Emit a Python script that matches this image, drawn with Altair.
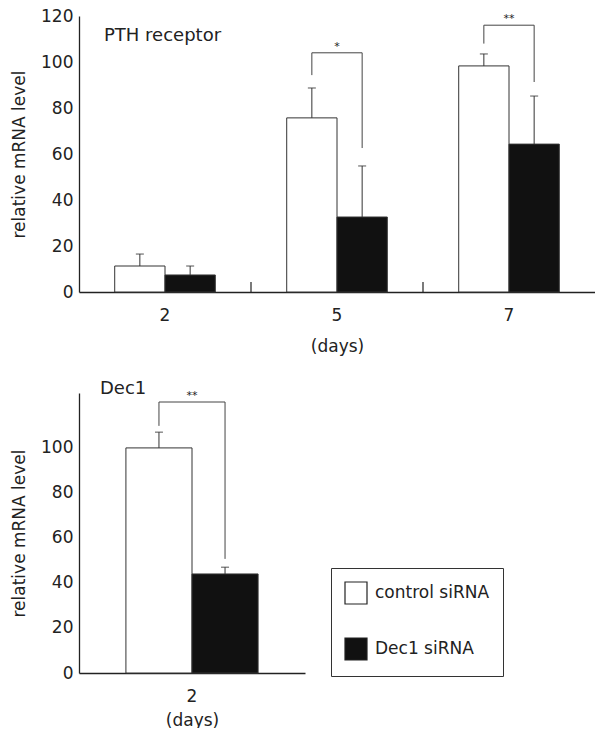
import altair as alt
import pandas as pd

FONT = "DejaVu Sans"
INK = "#222222"

# ---------------- data ----------------
series = ["control siRNA", "Dec1 siRNA"]

# Panel A: PTH receptor
pth_days = ["2", "5", "7"]
pth_ctrl_mean = [11.3, 75.7, 98.3]
pth_ctrl_sd = [5.2, 13.0, 5.2]
pth_dec_mean = [7.4, 32.6, 64.3]
pth_dec_sd = [3.9, 22.2, 20.9]
pth_sig_days = ["5", "7"]
pth_sig_left = [94.3, 108.0]
pth_sig_right = [62.6, 91.3]
pth_sig_top = [104.0, 116.0]
pth_sig_label = ["*", "**"]
pth_yticks = [0, 20, 40, 60, 80, 100, 120]

# Panel B: Dec1
dec_days = ["2"]
dec_ctrl_mean = [100.0]
dec_ctrl_sd = [7.0]
dec_dec_mean = [44.0]
dec_dec_sd = [3.0]
dec_sig_days = ["2"]
dec_sig_left = [109.8]
dec_sig_right = [50.7]
dec_sig_top = [120.4]
dec_sig_label = ["**"]
dec_yticks = [0, 20, 40, 60, 80, 100]


def bars_df(days, cm, cs, dm, ds):
    rows = []
    for i, d in enumerate(days):
        rows.append({"day": d, "series": series[0], "mean": cm[i], "top": cm[i] + cs[i]})
        rows.append({"day": d, "series": series[1], "mean": dm[i], "top": dm[i] + ds[i]})
    return pd.DataFrame(rows)


def bracket_df(days, left, right, top):
    rows = []
    for i, d in enumerate(days):
        rows += [
            {"day": d, "series": series[0], "v": left[i], "ord": 0},
            {"day": d, "series": series[0], "v": top[i], "ord": 1},
            {"day": d, "series": series[1], "v": top[i], "ord": 2},
            {"day": d, "series": series[1], "v": right[i], "ord": 3},
        ]
    return pd.DataFrame(rows)


def panel(days, cm, cs, dm, ds, sdays, sl, sr, st, slab, ydom, yticks,
          w, h, name, name_dx, name_dy, tick_days, label_pad, title_pad):
    bdf = bars_df(days, cm, cs, dm, ds)
    kdf = bracket_df(sdays, sl, sr, st)
    sdf = pd.DataFrame({"day": sdays, "v": st, "lab": slab})

    xsc = alt.Scale(domain=days, paddingInner=0, paddingOuter=0)
    xax = alt.Axis(labelAngle=0, ticks=False, labelPadding=label_pad, titlePadding=title_pad)
    xo = alt.XOffset("series:N", scale=alt.Scale(domain=series, paddingOuter=0.71, paddingInner=0))
    ysc = alt.Scale(domain=ydom, nice=False, zero=True)
    yax = alt.Axis(values=yticks, ticks=False, labelPadding=6, titlePadding=12, grid=False)

    def X():
        return alt.X("day:N", scale=xsc, axis=xax, title="(days)")

    def Y(f):
        return alt.Y(f, scale=ysc, axis=yax, title="relative mRNA level")

    bars = alt.Chart(bdf).mark_bar(stroke="#333333", strokeWidth=1).encode(
        x=X(), xOffset=xo, y=Y("mean:Q"),
        color=alt.Color("series:N", scale=alt.Scale(domain=series, range=["#ffffff", "#111111"]),
                        legend=alt.Legend(title=None, orient="none", legendX=252, legendY=552,
                                          symbolType="square", symbolSize=484,
                                          symbolStrokeColor="#222222", symbolStrokeWidth=1.2,
                                          labelFont=FONT, labelFontSize=17, labelColor=INK,
                                          labelOffset=7, rowPadding=28, padding=13,
                                          strokeColor="#333333")),
    )
    err = alt.Chart(bdf).mark_rule(color="#333333", strokeWidth=1).encode(
        x=X(), xOffset=xo, y=Y("mean:Q"), y2="top:Q")
    cap = alt.Chart(bdf).mark_tick(color="#333333", orient="horizontal", size=8, thickness=1.2).encode(
        x=X(), xOffset=xo, y=Y("top:Q"))
    brk = alt.Chart(kdf).mark_line(color="#444444", strokeWidth=1).encode(
        x=X(), xOffset=xo, y=Y("v:Q"), detail="day:N", order="ord:Q")
    stars = alt.Chart(sdf).mark_text(font=FONT, fontSize=11, color=INK, baseline="bottom", dy=-1).encode(
        x=X(), y=Y("v:Q"), text="lab:N")
    layers = [bars, err, cap, brk, stars]
    if tick_days:
        tdf = pd.DataFrame({"day": tick_days, "y0": [0] * len(tick_days), "y1": [4.3] * len(tick_days)})
        ticks = alt.Chart(tdf).mark_rule(color=INK, strokeWidth=1.2).encode(
            x=alt.X("day:N", scale=xsc, axis=xax, title="(days)", bandPosition=0),
            y=Y("y0:Q"), y2="y1:Q")
        layers.append(ticks)
    title = alt.Chart(pd.DataFrame({"t": [name]})).mark_text(
        font=FONT, fontSize=18, color=INK, align="left", baseline="middle").encode(
        x=alt.value(name_dx), y=alt.value(name_dy), text="t:N")
    layers.append(title)
    return alt.layer(*layers).properties(width=w, height=h)


top = panel(pth_days, pth_ctrl_mean, pth_ctrl_sd, pth_dec_mean, pth_dec_sd,
            pth_sig_days, pth_sig_left, pth_sig_right, pth_sig_top, pth_sig_label,
            [0, 120], pth_yticks, 516, 276, "PTH receptor", 25, 20, ["5", "7"], 15, 15)
bottom = panel(dec_days, dec_ctrl_mean, dec_ctrl_sd, dec_dec_mean, dec_dec_sd,
               dec_sig_days, dec_sig_left, dec_sig_right, dec_sig_top, dec_sig_label,
               [0, 124.4], dec_yticks, 226, 280, "Dec1", 21, -4, [], 15, 8)

chart = alt.vconcat(top, bottom, spacing=26).resolve_scale(xOffset="independent").properties(
    padding={"left": 10, "top": 7, "right": 0, "bottom": 0},
    background="white",
).configure_view(stroke=None).configure_axis(
    labelFont=FONT, titleFont=FONT, labelFontSize=17, titleFontSize=17,
    titleFontWeight="normal", labelColor=INK, titleColor=INK,
    domainColor=INK, domainWidth=1.3, grid=False,
)

chart.save("out.html", embed_options={"renderer": "svg", "actions": False})
